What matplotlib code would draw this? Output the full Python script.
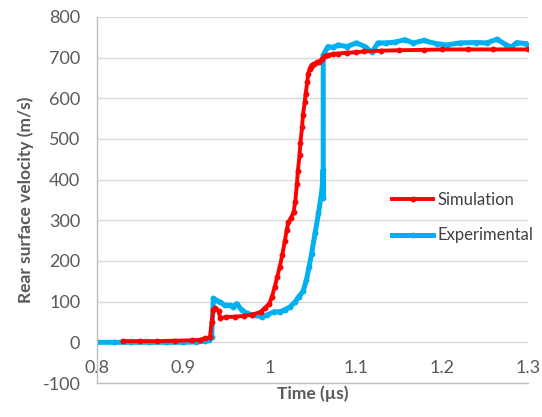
import matplotlib
matplotlib.use('Agg')
import matplotlib.pyplot as plt

plt.rcParams['font.family'] = ['Lato', 'DejaVu Sans']
plt.rcParams['axes.unicode_minus'] = False

# Simulation (red)
sim_t = [0.830, 0.850, 0.870, 0.890, 0.910, 0.920, 0.925, 0.931, 0.933, 0.935,
         0.937, 0.941, 0.943, 0.950, 0.960, 0.970, 0.980, 0.990, 0.995, 1.000,
         1.003, 1.006, 1.009, 1.012, 1.015, 1.018, 1.020, 1.022, 1.025, 1.028,
         1.030, 1.032, 1.033, 1.035, 1.036, 1.038, 1.039, 1.041, 1.042, 1.044,
         1.045, 1.047, 1.048, 1.050, 1.052, 1.055, 1.058, 1.061, 1.064, 1.068,
         1.074, 1.080, 1.090, 1.100, 1.110, 1.130, 1.150, 1.180, 1.200, 1.230,
         1.260, 1.300]
sim_v = [3, 3, 3, 4, 5, 6, 10, 12, 50, 80,
         84, 78, 60, 62, 63, 65, 68, 75, 85, 95,
         112, 135, 160, 185, 215, 250, 275, 295, 305, 320,
         345, 390, 420, 460, 490, 530, 560, 590, 610, 640,
         660, 672, 678, 682, 685, 688, 690, 697, 703, 706,
         709, 710, 712, 713, 715, 717, 718, 719, 720, 720,
         720, 720]

# Experimental (blue)
exp_t = [0.800, 0.820, 0.840, 0.860, 0.880, 0.900, 0.915, 0.925, 0.930, 0.933,
         0.935, 0.938, 0.943, 0.948, 0.954, 0.958, 0.962, 0.968, 0.974, 0.980,
         0.985, 0.991, 0.997, 1.005, 1.012, 1.018, 1.024, 1.030, 1.034, 1.039,
         1.043, 1.046, 1.049, 1.053, 1.057, 1.061, 1.0625, 1.0625, 1.0625, 1.068,
         1.074, 1.080, 1.090, 1.101, 1.111, 1.119, 1.126, 1.135, 1.146, 1.157,
         1.167, 1.179, 1.194, 1.206, 1.221, 1.240, 1.252, 1.264, 1.275, 1.281,
         1.287, 1.298]
exp_v = [0, 0, 0, 0, 0, 0, 1, 3, 6, 13,
         108, 103, 99, 91, 91, 88, 95, 79, 71, 68,
         67, 62, 67, 75, 75, 80, 87, 100, 112, 125,
         153, 185, 218, 268, 317, 374, 424, 355, 707, 727,
         725, 731, 727, 736, 727, 713, 736, 736, 738, 744,
         736, 742, 734, 731, 736, 737, 736, 745, 731, 726,
         737, 734]

xticks = [0.8, 0.9, 1.0, 1.1, 1.2, 1.3]
xtick_labels = ['0.8', '0.9', '1', '1.1', '1.2', '1.3']
yticks = [-100, 0, 100, 200, 300, 400, 500, 600, 700, 800]

fig = plt.figure(figsize=(5.42, 4.17), dpi=100)
ax = fig.add_axes([0.179, 0.0815, 0.795, 0.878])

for y in yticks:
    ax.axhline(y, color='#D9D9D9', lw=1, zorder=0)

ax.plot(sim_t, sim_v, color='#FF0000', lw=2.8, marker='o', ms=3.2,
        label='Simulation', zorder=3)
ax.plot(exp_t, exp_v, color='#00B0F0', lw=3.6, marker='o', ms=3.2,
        label='Experimental', zorder=2)

ax.set_xlim(0.8, 1.3)
ax.set_ylim(-100, 800)
ax.set_xticks(xticks)
ax.set_xticklabels(xtick_labels)
ax.set_yticks(yticks)

for s in ['top', 'right']:
    ax.spines[s].set_visible(False)
for s in ['left', 'bottom']:
    ax.spines[s].set_color('#BFBFBF')
    ax.spines[s].set_linewidth(1)

ax.tick_params(axis='both', length=0, labelsize=13, labelcolor='#595959')
ax.tick_params(axis='x', pad=-16.5)
ax.tick_params(axis='y', pad=12)

ax.set_xlabel('Time (µs)', fontsize=12.5, fontweight='bold', color='#595959', labelpad=2)
ax.set_ylabel('Rear surface velocity (m/s)', fontsize=12.5, fontweight='bold',
              color='#595959', labelpad=6)

ax.legend(loc='upper left', bbox_to_anchor=(0.695, 0.575), bbox_transform=fig.transFigure,
          frameon=False, fontsize=12, handlelength=2.5, labelspacing=1.15,
          handletextpad=0.25, labelcolor='#404040')

fig.savefig('out.png', dpi=100)
